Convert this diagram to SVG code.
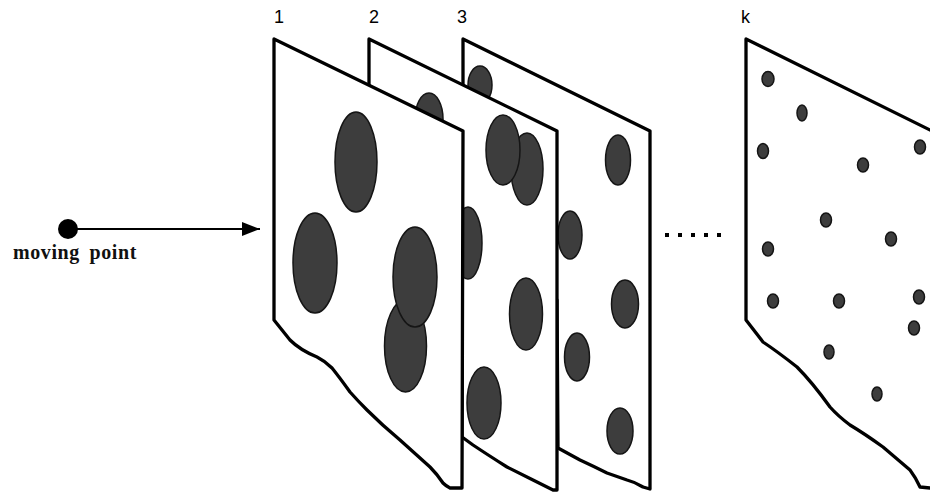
<svg xmlns="http://www.w3.org/2000/svg" width="930" height="495" viewBox="0 0 930 495">
<defs>
<style>
.panel{fill:#fff;stroke:#000;stroke-width:3.3;stroke-linejoin:round}
.spot{fill:#3d3d3d;stroke:#151515;stroke-width:1.5}
.lbl{font-family:"Liberation Sans",Arial,sans-serif;font-size:18px;fill:#000}
.cap{font-family:"Liberation Serif","Times New Roman",serif;font-size:20px;font-weight:bold;fill:#111;letter-spacing:0.6px;word-spacing:4px}
</style>
<marker id="ah" viewBox="0 0 18 14" refX="18" refY="7" markerWidth="18" markerHeight="14" markerUnits="userSpaceOnUse" orient="auto">
<path d="M0,0 L18,7 L0,14 Z" fill="#000"/>
</marker>
</defs>
<rect width="930" height="495" fill="#fff"/>

<g id="panel-k">
<path class="panel" d="M746,39 L936,133 L936,490 L930,488 L920,487 Q916,478 910,470 L883,447 Q865,434 850,425 Q838,416 830,407 Q812,382 797,367 Q778,352 763,342 L746,320 Z"/>
<ellipse class="spot" cx="768" cy="79" rx="6" ry="7.5"/>
<ellipse class="spot" cx="802" cy="113" rx="5" ry="8"/>
<ellipse class="spot" cx="763" cy="151" rx="5.5" ry="7.5"/>
<ellipse class="spot" cx="863" cy="165" rx="5.5" ry="7"/>
<ellipse class="spot" cx="920" cy="147" rx="5.5" ry="7"/>
<ellipse class="spot" cx="826" cy="220" rx="5.5" ry="7"/>
<ellipse class="spot" cx="891" cy="239" rx="5.5" ry="7"/>
<ellipse class="spot" cx="768" cy="249" rx="5.5" ry="7"/>
<ellipse class="spot" cx="773" cy="301" rx="5.5" ry="7"/>
<ellipse class="spot" cx="839" cy="301" rx="5.5" ry="7"/>
<ellipse class="spot" cx="919" cy="297" rx="5.5" ry="7"/>
<ellipse class="spot" cx="914" cy="328" rx="5.5" ry="7"/>
<ellipse class="spot" cx="829" cy="352" rx="5" ry="7"/>
<ellipse class="spot" cx="877" cy="394" rx="5" ry="7"/>
</g>

<g id="panel-3">
<path class="panel" d="M463,39 L650,131 L650,489 L643,487 Q635,482 627,480 L607,473 Q593,466 580,460 L558,448 L557,300 L463,300 Z"/>
<ellipse class="spot" cx="480" cy="85" rx="12" ry="19"/>
<ellipse class="spot" cx="618" cy="160" rx="12.5" ry="25"/>
<ellipse class="spot" cx="570" cy="235" rx="12" ry="24"/>
<ellipse class="spot" cx="625" cy="304" rx="13.5" ry="24"/>
<ellipse class="spot" cx="577" cy="357" rx="12.5" ry="24"/>
<ellipse class="spot" cx="620" cy="431" rx="13" ry="23"/>
</g>

<g id="panel-2">
<path class="panel" d="M369,39 L557,131 L557,490 L553,490 Q543,485 533,480 L507,467 Q488,455 473,445 L462,437 L462,300 L369,300 Z"/>
<ellipse class="spot" cx="429" cy="119" rx="14" ry="26"/>
<ellipse class="spot" cx="527" cy="169" rx="16" ry="36"/>
<ellipse class="spot" cx="503" cy="150" rx="17" ry="35"/>
<ellipse class="spot" cx="468" cy="243" rx="14" ry="36"/>
<ellipse class="spot" cx="526" cy="314" rx="16.5" ry="36"/>
<ellipse class="spot" cx="484" cy="403" rx="17" ry="36"/>
</g>

<g id="panel-1">
<path class="panel" d="M274,39 L463,131 L462,488 L450,488 Q446,486 443,483 Q437,474 430,467 L400,440 Q382,425 367,410 Q358,401 350,392 Q340,378 332,368 Q325,361 317,357 Q300,350 290,340 L274,320 Z"/>
<ellipse class="spot" cx="356" cy="162" rx="21" ry="50"/>
<ellipse class="spot" cx="315" cy="263" rx="22" ry="50"/>
<ellipse class="spot" cx="405.5" cy="346" rx="21" ry="46"/>
<ellipse class="spot" cx="415" cy="277" rx="22" ry="50"/>
</g>

<g id="moving-point">
<circle cx="68" cy="229" r="10" fill="#000"/>
<text class="cap" x="13" y="259">moving point</text>
</g>

<g id="connectors">
<line x1="68" y1="229" x2="260" y2="229" stroke="#000" stroke-width="2" marker-end="url(#ah)"/>
</g>

<g id="labels">
<text class="lbl" x="274" y="23">1</text>
<text class="lbl" x="369" y="23">2</text>
<text class="lbl" x="457" y="23">3</text>
<text class="lbl" x="741" y="23">k</text>
</g>

<g id="ellipsis" fill="#000">
<rect x="665" y="233" width="4" height="4"/>
<rect x="678" y="233" width="4" height="4"/>
<rect x="691" y="233" width="4" height="4"/>
<rect x="704" y="233" width="4" height="4"/>
<rect x="717" y="233" width="4" height="4"/>
</g>
</svg>
